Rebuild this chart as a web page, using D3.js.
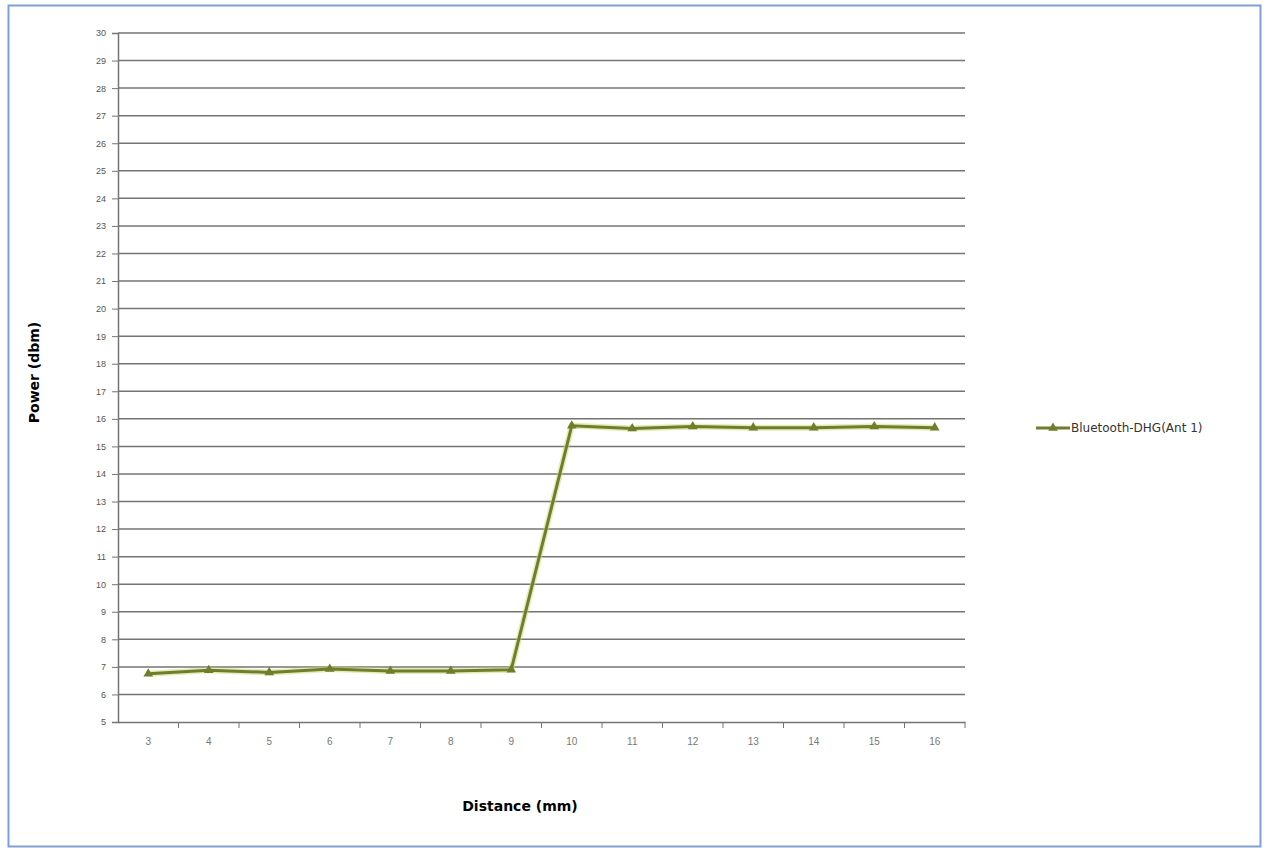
<!DOCTYPE html>
<html>
<head>
<meta charset="utf-8">
<script src="https://cdn.jsdelivr.net/npm/d3@7"></script>
<style>
  body { margin: 0; background: #fff; }
  svg { display: block; font-family: "DejaVu Sans", sans-serif; }
</style>
</head>
<body>
<div id="chart"></div>
<script>
// chart data
const distances = ["3", "4", "5", "6", "7", "8", "9", "10", "11", "12", "13", "14", "15", "16"];
const powerValues = [6.75, 6.88, 6.8, 6.92, 6.85, 6.85, 6.9, 15.75, 15.65, 15.72, 15.68, 15.68, 15.72, 15.68];
const yTicks = d3.range(5, 31);
const seriesName = "Bluetooth-DHG(Ant 1)";

const width = 1269, height = 850;
const margin = { top: 33, right: 304, bottom: 128, left: 118 };
const innerW = width - margin.left - margin.right;
const innerH = height - margin.top - margin.bottom;
const lineColor = "#6f7d2c";
const gridColor = "#747474";

const svg = d3.select("#chart").append("svg")
    .attr("width", width)
    .attr("height", height);

// outer frame
svg.append("rect")
    .attr("x", 8.5).attr("y", 5.5)
    .attr("width", 1252).attr("height", 841)
    .attr("fill", "#fff")
    .attr("stroke", "#7f9fd6")
    .attr("stroke-width", 2);

const g = svg.append("g")
    .attr("transform", `translate(${margin.left},${margin.top})`);

const x = d3.scaleBand()
    .domain(distances)
    .range([0, innerW]);

const y = d3.scaleLinear()
    .domain([5, 30])
    .range([innerH, 0]);

// gridlines
g.append("g")
    .selectAll("line")
    .data(yTicks.filter(d => d > 5))
    .join("line")
    .attr("x1", 0).attr("x2", innerW)
    .attr("y1", d => y(d)).attr("y2", d => y(d))
    .attr("stroke", gridColor)
    .attr("stroke-width", 1.5);

// Y axis
const yAxis = g.append("g")
    .call(d3.axisLeft(y).tickValues(yTicks).tickFormat(d3.format("d")).tickSize(6).tickPadding(6));
yAxis.select(".domain").attr("stroke", gridColor).attr("stroke-width", 1.5);
yAxis.selectAll(".tick line").attr("stroke", gridColor);
yAxis.selectAll("text").style("font-size", "9px").attr("fill", "#555");

// X axis
const xAxis = g.append("g")
    .attr("transform", `translate(0,${innerH})`)
    .call(d3.axisBottom(x).tickSize(0).tickPadding(16));
xAxis.select(".domain").attr("stroke", gridColor).attr("stroke-width", 1.5);
xAxis.selectAll("text").style("font-size", "10px").attr("fill", "#777");

// tick marks between categories
g.append("g")
    .selectAll("line")
    .data(distances)
    .join("line")
    .attr("x1", d => x(d) + x.bandwidth())
    .attr("x2", d => x(d) + x.bandwidth())
    .attr("y1", innerH).attr("y2", innerH + 6)
    .attr("stroke", gridColor);

// series line
const pts = distances.map((d, i) => ({ d, v: powerValues[i] }));
const line = d3.line()
    .x(p => x(p.d) + x.bandwidth() / 2)
    .y(p => y(p.v));

g.append("path")
    .datum(pts)
    .attr("fill", "none")
    .attr("stroke", "#c9d96a")
    .attr("stroke-width", 6)
    .attr("stroke-opacity", 0.5)
    .attr("d", line);

g.append("path")
    .datum(pts)
    .attr("fill", "none")
    .attr("stroke", lineColor)
    .attr("stroke-width", 3)
    .attr("d", line);

const tri = d3.symbol().type(d3.symbolTriangle).size(40);
g.append("g")
    .selectAll("path")
    .data(pts)
    .join("path")
    .attr("transform", p => `translate(${x(p.d) + x.bandwidth() / 2},${y(p.v)})`)
    .attr("d", tri)
    .attr("fill", lineColor);

// axis titles
svg.append("text")
    .attr("transform", `translate(39,${margin.top + innerH / 2 - 5}) rotate(-90)`)
    .attr("text-anchor", "middle")
    .style("font-size", "14px")
    .style("font-weight", "bold")
    .text("Power (dbm)");

svg.append("text")
    .attr("x", 520).attr("y", 811)
    .attr("text-anchor", "middle")
    .style("font-size", "14px")
    .style("font-weight", "bold")
    .text("Distance (mm)");

// legend
const lg = svg.append("g").attr("transform", "translate(1036,428)");
lg.append("line")
    .attr("x1", 0).attr("x2", 34)
    .attr("stroke", lineColor).attr("stroke-width", 3);
lg.append("path")
    .attr("transform", "translate(17,0)")
    .attr("d", tri)
    .attr("fill", lineColor);
lg.append("text")
    .attr("x", 35).attr("y", 4)
    .style("font-size", "12px")
    .attr("fill", "#333")
    .text(seriesName);
</script>
</body>
</html>
